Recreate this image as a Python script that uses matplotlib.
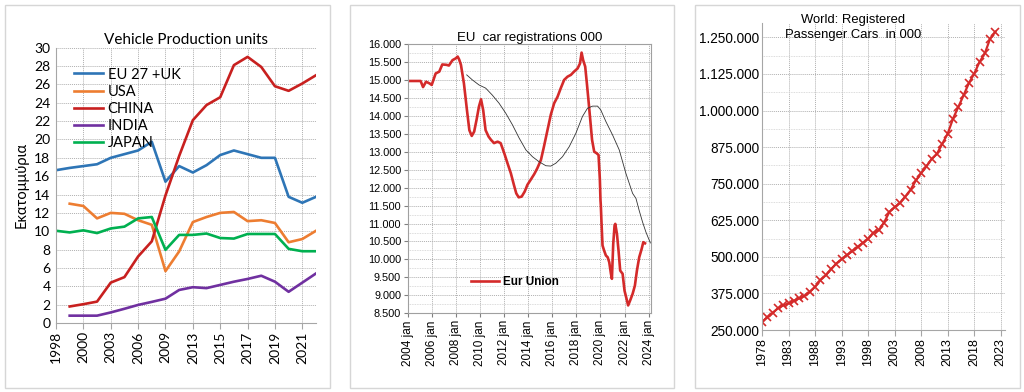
import numpy as np
import matplotlib
matplotlib.use("Agg")
import matplotlib.pyplot as plt
from matplotlib.patches import Rectangle
from matplotlib.ticker import FuncFormatter, MultipleLocator

# ---- left panel: vehicle production (millions) ----
years = ["1998", "1999", "2000", "2001", "2003", "2004", "2006", "2007", "2009", "2011",
         "2013", "2014", "2015", "2016", "2017", "2018", "2019", "2020", "2021", "2022"]
eu_uk = [16.65, 16.9, 17.1, 17.3, 18.0, 18.4, 18.8, 19.75, 15.4, 17.1,
         16.4, 17.2, 18.3, 18.8, 18.4, 18.0, 18.0, 13.75, 13.1, 13.75]
usa = [None, 13.0, 12.75, 11.4, 12.0, 11.9, 11.2, 10.7, 5.65, 7.8,
       11.0, 11.55, 12.0, 12.1, 11.1, 11.2, 10.9, 8.8, 9.15, 10.05]
china = [None, 1.8, 2.05, 2.33, 4.4, 5.0, 7.25, 8.9, 13.9, 18.2,
         22.1, 23.75, 24.6, 28.1, 29.0, 27.9, 25.8, 25.3, 26.1, 27.0]
india = [None, 0.8, 0.8, 0.8, 1.15, 1.55, 1.97, 2.3, 2.65, 3.6,
         3.9, 3.8, 4.15, 4.5, 4.8, 5.15, 4.5, 3.4, 4.4, 5.4]
japan = [10.05, 9.87, 10.1, 9.8, 10.3, 10.5, 11.4, 11.55, 7.97, 9.6,
         9.6, 9.75, 9.26, 9.2, 9.7, 9.7, 9.7, 8.08, 7.82, 7.82]

# ---- middle panel: EU car registrations, 12-month total (000) ----
eu_t = [2004.0, 2005.05, 2005.25, 2005.5, 2005.8, 2005.97, 2006.3, 2006.6, 2006.85, 2007.2,
        2007.4, 2007.7, 2007.97, 2008.13, 2008.25, 2008.4, 2008.65, 2008.9, 2009.1, 2009.3,
        2009.5, 2009.7, 2009.9, 2010.07, 2010.25, 2010.45, 2010.7, 2010.9, 2011.15, 2011.45,
        2011.7, 2012.0, 2012.27, 2012.55, 2012.8, 2013.0, 2013.2, 2013.45, 2013.7, 2013.93,
        2014.2, 2014.5, 2014.75, 2015.05, 2015.3, 2015.6, 2015.87, 2016.15, 2016.43, 2016.7,
        2016.98, 2017.26, 2017.54, 2017.8, 2018.1, 2018.3, 2018.43, 2018.56, 2018.73, 2018.87,
        2019.0, 2019.15, 2019.3, 2019.48, 2019.67, 2019.84, 2019.95, 2020.0, 2020.03, 2020.09,
        2020.17, 2020.3, 2020.45, 2020.6, 2020.73, 2020.87, 2020.95, 2021.06, 2021.17, 2021.23,
        2021.37, 2021.5, 2021.64, 2021.84, 2022.0, 2022.17, 2022.3, 2022.47, 2022.67, 2022.86,
        2023.03, 2023.22, 2023.42, 2023.56, 2023.7]
eu_reg = [14970, 14970, 14800, 14950, 14900, 14860, 15180, 15230, 15430, 15420,
          15400, 15550, 15600, 15650, 15570, 15420, 14900, 14160, 13600, 13440,
          13560, 13890, 14260, 14460, 14160, 13600, 13420, 13330, 13240, 13280,
          13240, 12960, 12680, 12400, 12080, 11840, 11730, 11750, 11890, 12080,
          12220, 12380, 12540, 12770, 13140, 13610, 14030, 14350, 14530, 14770,
          15000, 15090, 15140, 15230, 15320, 15460, 15760, 15550, 15370, 14900,
          14440, 13890, 13330, 13000, 12960, 12910, 12220, 11660, 11500, 10990,
          10390, 10250, 10110, 10060, 9920, 9600, 9460, 10430, 10940, 10990,
          10710, 10250, 9690, 9600, 9130, 8900, 8720, 8860, 9040, 9270,
          9690, 10060, 10290, 10480, 10450]
avg_t = [2008.88, 2009.35, 2009.9, 2010.46, 2011.0, 2011.57, 2012.13, 2012.68, 2013.24, 2013.8,
         2014.35, 2014.9, 2015.46, 2015.87, 2016.29, 2016.84, 2017.4, 2017.95, 2018.5, 2018.92,
         2019.34, 2019.76, 2020.03, 2020.45, 2021.0, 2021.56, 2022.11, 2022.67, 2022.95, 2023.22,
         2023.5, 2023.78, 2024.06, 2024.15]
avg_reg = [15140, 15000, 14860, 14770, 14580, 14350, 14070, 13750, 13380, 13050,
           12860, 12720, 12610, 12600, 12680, 12860, 13140, 13510, 13980, 14210,
           14270, 14270, 14160, 13840, 13470, 13050, 12400, 11840, 11700, 11360,
           11040, 10760, 10530, 10460]

# ---- right panel: world registered passenger cars (000) ----
world_years = list(range(1978, 2023))
world_cars = [276000, 293000, 309000, 324000, 334000, 341000, 350000, 358000, 366000, 381000,
              398000, 420000, 437000, 457000, 477000, 492000, 506000, 519000, 534000, 548000,
              562000, 582000, 591000, 617000, 653000, 670000, 684000, 706000, 729000, 761000,
              786000, 809000, 835000, 853000, 887000, 921000, 972000, 1012000, 1052000, 1094000,
              1126000, 1166000, 1195000, 1246000, 1269000]

W, H = 1024, 392
fig = plt.figure(figsize=(W / 100, H / 100), dpi=100)

def px_axes(l, t, r, b):
    return fig.add_axes([l / W, 1 - b / H, (r - l) / W, (b - t) / H])

# panel frames
for x0, x1 in [(5, 330), (350, 674), (695, 1020)]:
    fig.patches.append(Rectangle((x0 / W, 4 / H), (x1 - x0) / W, 383 / H,
                                 transform=fig.transFigure, fill=False,
                                 edgecolor="#d6d6d6", linewidth=1.0))

grid_kw = dict(color="#b0b0b0", linestyle=(0, (1, 1)), linewidth=0.7)
cal = ["Lato", "Open Sans", "DejaVu Sans"]
ari = ["Liberation Sans", "DejaVu Sans"]

# ---------------- left ----------------
ax1 = px_axes(56, 47.7, 316, 323)
idx = np.arange(len(years))
series = [("EU 27 +UK", eu_uk, "#2e75b6"), ("USA", usa, "#ed7d31"),
          ("CHINA", china, "#c8201f"), ("INDIA", india, "#7030a0"),
          ("JAPAN", japan, "#00b050")]
for name, vals, col in series:
    v = np.array([np.nan if x is None else x for x in vals], dtype=float)
    ax1.plot(idx, v, color=col, linewidth=1.9, label=name, solid_joinstyle="round")
ax1.set_xlim(0, len(years) - 1)
ax1.set_ylim(0, 30)
ax1.set_yticks(range(0, 31, 2))
ax1.set_xticks(idx[::2])
ax1.set_xticklabels(years[::2], rotation=90, family=cal, fontsize=10)
for lab in ax1.get_yticklabels():
    lab.set_family(cal)
    lab.set_fontsize(10)
ax1.grid(True, **grid_kw)
for s in ["top", "right"]:
    ax1.spines[s].set_visible(False)
for s in ["left", "bottom"]:
    ax1.spines[s].set_color("#a6a6a6")
ax1.tick_params(axis="x", length=4, color="#a6a6a6", pad=2)
ax1.tick_params(axis="y", length=0, pad=4)
ax1.set_ylabel("Εκατομμύρια", family=cal, fontsize=10.5, labelpad=4)
ax1.set_title("Vehicle Production units", family=cal, fontsize=11, pad=3)
ax1.legend(loc="upper left", bbox_to_anchor=(0.07, 0.928), frameon=False,
           prop={"family": cal, "size": 10.5}, handlelength=2.0, handletextpad=0.3,
           labelspacing=0.22, borderpad=0, borderaxespad=0)

# ---------------- middle ----------------
ax2 = px_axes(408, 44, 651, 313.3)
ax2.plot(eu_t, eu_reg, color="#d42a2a", linewidth=1.9, label="Eur Union")
ax2.plot(avg_t, avg_reg, color="#333333", linewidth=0.6)
ax2.set_xlim(2004, 2024.2)
ax2.set_ylim(8500, 16000)
ax2.set_yticks(range(8500, 16001, 500))
ax2.yaxis.set_minor_locator(MultipleLocator(250))
ax2.yaxis.set_major_formatter(FuncFormatter(lambda v, p: f"{int(v):,}".replace(",", ".")))
ax2.set_xticks(range(2004, 2025, 2))
ax2.set_xticklabels([f"{y} jan" for y in range(2004, 2025, 2)], rotation=90,
                    family=ari, fontsize=8.5)
for lab in ax2.get_yticklabels():
    lab.set_family(ari)
    lab.set_fontsize(7.8)
ax2.grid(True, which="major", **grid_kw)
ax2.grid(True, which="minor", axis="y", color="#d0d0d0", linestyle=(0, (1, 1)), linewidth=0.6)
for s in ax2.spines.values():
    s.set_color("#a0a0a0")
ax2.tick_params(axis="both", which="major", length=3, color="#808080", pad=2)
ax2.tick_params(axis="y", which="minor", length=0)
ax2.set_title("EU  car registrations 000", family=ari, fontsize=9.5, pad=1)
ax2.legend(loc="upper left", bbox_to_anchor=(0.26, 0.14), frameon=False,
           prop={"family": ari, "size": 8.4, "weight": "bold"}, handlelength=2.4,
           handletextpad=0.3, borderpad=0, borderaxespad=0)

# ---------------- right ----------------
ax3 = px_axes(762, 22.7, 1005, 330)
ax3.plot(world_years, world_cars, color="#d42a2a", linewidth=1.6, marker="x",
         markersize=5.5, markeredgewidth=1.2)
ax3.set_xlim(1978, 2023.8)
ax3.set_ylim(250000, 1300000)
ax3.set_yticks(range(250000, 1250001, 125000))
ax3.yaxis.set_minor_locator(MultipleLocator(62500))
ax3.yaxis.set_major_formatter(FuncFormatter(lambda v, p: f"{int(v):,}".replace(",", ".")))
ax3.set_xticks(range(1978, 2024, 5))
ax3.set_xticklabels([str(y) for y in range(1978, 2024, 5)], rotation=90,
                    family=ari, fontsize=9)
for lab in ax3.get_yticklabels():
    lab.set_family(ari)
    lab.set_fontsize(9.8)
ax3.grid(True, which="major", **grid_kw)
ax3.grid(True, which="minor", axis="y", color="#d0d0d0", linestyle=(0, (1, 1)), linewidth=0.6)
for s in ["top", "right"]:
    ax3.spines[s].set_visible(False)
for s in ["left", "bottom"]:
    ax3.spines[s].set_color("#a6a6a6")
ax3.tick_params(axis="x", length=4, color="#a6a6a6", pad=2)
ax3.tick_params(axis="y", which="both", length=0, pad=2)
ax3.text(1995.2, 1283000, "World: Registered\nPassenger Cars  in 000", ha="center",
         va="center", family=ari, fontsize=9.4, linespacing=1.4)

fig.savefig("out.png", dpi=100)
